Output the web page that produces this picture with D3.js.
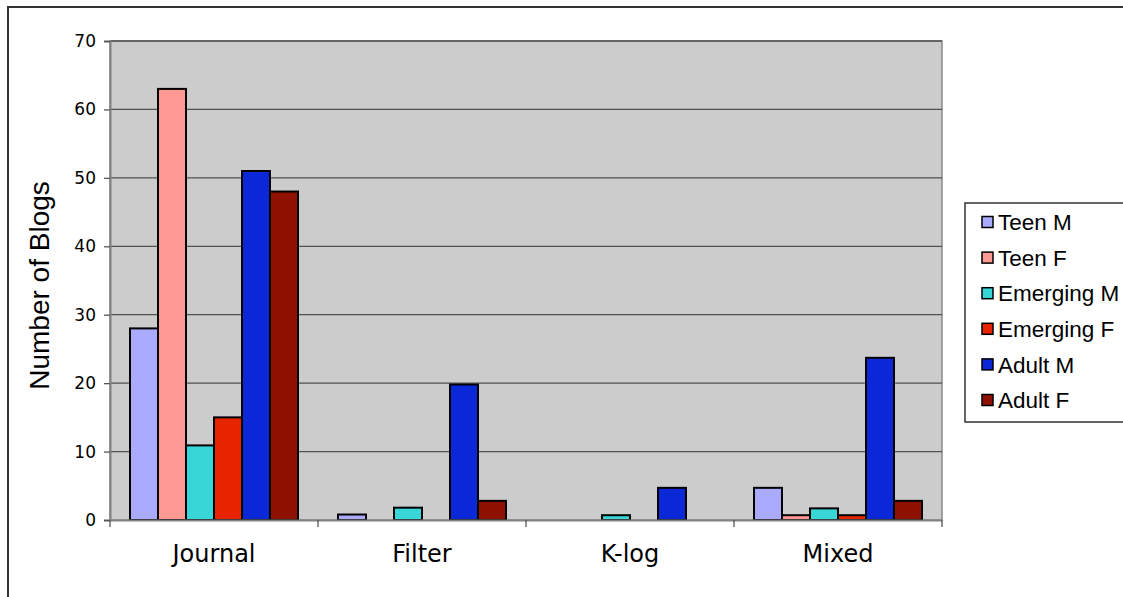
<!DOCTYPE html>
<html>
<head>
<meta charset="utf-8">
<script src="https://cdn.jsdelivr.net/npm/d3@7"></script>
<style>
  html, body { margin: 0; padding: 0; background: #fff; }
  svg { display: block; }
</style>
</head>
<body>
<svg id="chart" width="1123" height="597"></svg>
<script>
const categories = ['Journal', 'Filter', 'K-log', 'Mixed'];
const seriesNames = ['Teen M', 'Teen F', 'Emerging M', 'Emerging F', 'Adult M', 'Adult F'];
const seriesColors = ['#aaaaff', '#ff9994', '#38d6d6', '#e82300', '#0a28d8', '#8f1200'];
// values per series, in category order
const teenM = [28, 0.8, 0, 4.7];
const teenF = [63, 0, 0, 0.7];
const emergingM = [10.9, 1.8, 0.7, 1.7];
const emergingF = [15, 0, 0, 0.7];
const adultM = [51, 19.8, 4.7, 23.7];
const adultF = [48, 2.8, 0, 2.8];
const yTicks = [0, 10, 20, 30, 40, 50, 60, 70];

const seriesValues = [teenM, teenF, emergingM, emergingF, adultM, adultF];

const svg = d3.select('#chart');
const plot = { left: 110, right: 942, top: 41, bottom: 520 };

// outer chart border, runs off the right and bottom edges
svg.append('rect')
  .attr('x', 8).attr('y', 7)
  .attr('width', 1130).attr('height', 600)
  .attr('fill', 'none')
  .attr('stroke', '#333')
  .attr('stroke-width', 2);

const x0 = d3.scaleBand().domain(categories).range([plot.left, plot.right]);
const x1 = d3.scaleBand().domain(seriesNames).range([20, x0.bandwidth() - 20]);
const y = d3.scaleLinear().domain([0, 70]).range([plot.bottom, plot.top]);

svg.append('rect')
  .attr('x', plot.left).attr('y', plot.top)
  .attr('width', plot.right - plot.left).attr('height', plot.bottom - plot.top)
  .attr('fill', '#cccccc')
  .attr('stroke', '#8a8a8a')
  .attr('stroke-width', 1.5);

svg.append('g')
  .selectAll('line')
  .data(yTicks.filter(d => d > 0))
  .join('line')
  .attr('x1', plot.left).attr('x2', plot.right)
  .attr('y1', d => y(d)).attr('y2', d => y(d))
  .attr('stroke', '#505050')
  .attr('stroke-width', 1.3);

// bars
const groups = svg.append('g')
  .selectAll('g')
  .data(categories)
  .join('g')
  .attr('transform', d => `translate(${x0(d)},0)`);

groups.selectAll('rect')
  .data((c, ci) => seriesNames.map((s, si) => ({ s, si, v: seriesValues[si][ci] })).filter(d => d.v > 0))
  .join('rect')
  .attr('x', d => x1(d.s))
  .attr('y', d => y(d.v))
  .attr('width', x1.bandwidth())
  .attr('height', d => y(0) - y(d.v))
  .attr('fill', d => seriesColors[d.si])
  .attr('stroke', '#000')
  .attr('stroke-width', 2);

// y axis
const yAxis = svg.append('g')
  .attr('transform', `translate(${plot.left},0)`)
  .call(d3.axisLeft(y).tickValues(yTicks).tickSize(6).tickPadding(8));
yAxis.select('.domain').attr('stroke', '#808080').attr('stroke-width', 2);
yAxis.selectAll('.tick line').attr('stroke', '#555').attr('stroke-width', 1.3);
yAxis.selectAll('.tick text')
  .attr('fill', '#000')
  .style('font-family', '"DejaVu Sans", sans-serif')
  .style('font-size', '17px');

// x axis
const xAxis = svg.append('g')
  .attr('transform', `translate(0,${plot.bottom})`)
  .call(d3.axisBottom(x0).tickSize(0).tickPadding(25));
xAxis.select('.domain').attr('stroke', '#808080').attr('stroke-width', 2);
xAxis.selectAll('.tick text')
  .attr('fill', '#000')
  .style('font-family', '"DejaVu Sans", sans-serif')
  .style('font-size', '24px');

xAxis.selectAll('line.sep')
  .data(categories.map(c => x0(c)).concat([plot.right]))
  .join('line')
  .attr('class', 'sep')
  .attr('x1', d => d).attr('x2', d => d)
  .attr('y1', 0).attr('y2', 7)
  .attr('stroke', '#555')
  .attr('stroke-width', 1.3);

svg.append('text')
  .attr('transform', `translate(49,${(plot.top + plot.bottom) / 2 + 5}) rotate(-90)`)
  .attr('text-anchor', 'middle')
  .style('font-family', '"Liberation Sans", Arial, sans-serif')
  .style('font-size', '28px')
  .text('Number of Blogs');

// legend
const legend = svg.append('g');
legend.append('rect')
  .attr('x', 965).attr('y', 203)
  .attr('width', 170).attr('height', 219)
  .attr('fill', '#fff')
  .attr('stroke', '#333')
  .attr('stroke-width', 1.5);

const rows = legend.selectAll('g.row')
  .data(seriesNames)
  .join('g')
  .attr('class', 'row')
  .attr('transform', (d, i) => `translate(982,${222 + i * 35.6})`);

rows.append('rect')
  .attr('x', 0).attr('y', -5.5)
  .attr('width', 11).attr('height', 11)
  .attr('fill', (d, i) => seriesColors[i])
  .attr('stroke', '#000')
  .attr('stroke-width', 1.5);

rows.append('text')
  .attr('x', 16).attr('y', 0)
  .attr('dy', '0.36em')
  .style('font-family', '"Liberation Sans", Arial, sans-serif')
  .style('font-size', '22.5px')
  .text(d => d);
</script>
</body>
</html>
